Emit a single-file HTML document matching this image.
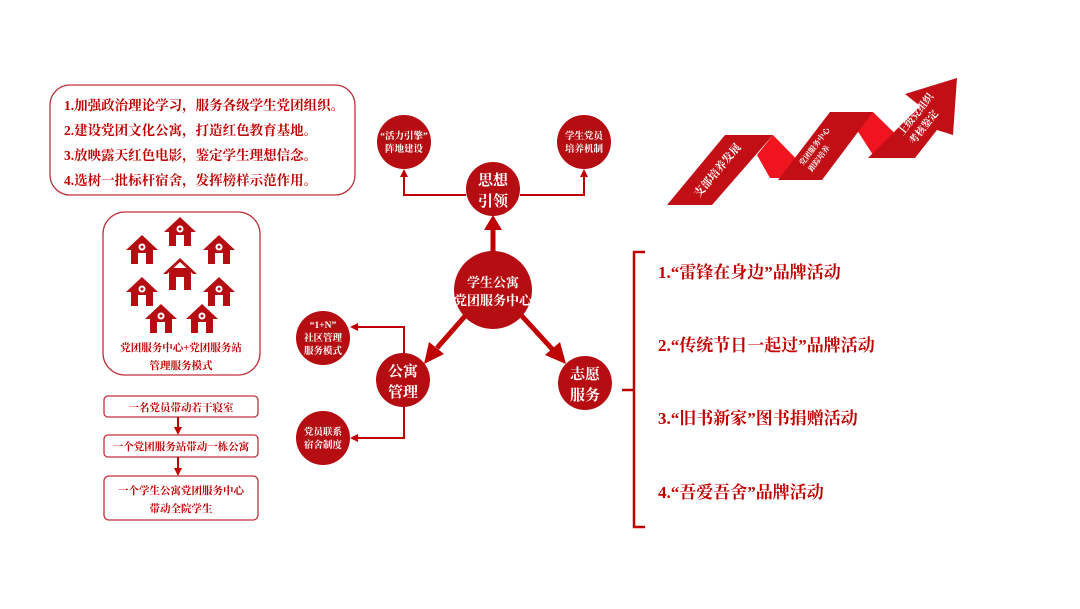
<!DOCTYPE html>
<html><head><meta charset="utf-8"><style>
html,body{margin:0;padding:0;background:#fff}
svg{display:block}
text{font-family:"Liberation Serif","Noto Serif CJK SC",serif;font-weight:bold}
</style></head><body>
<svg width="1080" height="609" viewBox="0 0 1080 609" xmlns="http://www.w3.org/2000/svg">
<defs>
<g id="h">
<polygon points="-16,0 0,-15 16,0" fill="#b50d12"/>
<rect x="-11" y="-2" width="22" height="16" fill="#b50d12"/>
<circle cx="0" cy="-3" r="3.5" fill="#fff"/><circle cx="0" cy="-3" r="1.5" fill="#b50d12"/>
<rect x="-4" y="3" width="8" height="11" fill="#fff"/>
</g>
<marker id="a" markerWidth="8" markerHeight="8" refX="6" refY="4" orient="auto" markerUnits="userSpaceOnUse"><path d="M0,0 L8,4 L0,8 Z" fill="#c00000"/></marker>
</defs>
<g fill="none" stroke="#c0303a" stroke-width="1.3">
<rect x="50" y="85" width="305" height="110" rx="20"/>
<rect x="103" y="212" width="157" height="163" rx="22"/>
<rect x="104" y="396" width="154" height="21" rx="4"/>
<rect x="104" y="435" width="154" height="22" rx="4"/>
<rect x="104" y="476" width="154" height="44" rx="5"/>
</g>
<g font-size="13.5" fill="#c00000">
<text x="64" y="110">1.加强政治理论学习，服务各级学生党团组织。</text>
<text x="64" y="135">2.建设党团文化公寓，打造红色教育基地。</text>
<text x="64" y="160">3.放映露天红色电影，鉴定学生理想信念。</text>
<text x="64" y="185">4.选树一批标杆宿舍，发挥榜样示范作用。</text>
</g>
<use href="#h" x="142" y="250"/><use href="#h" x="180" y="232"/><use href="#h" x="219" y="250"/>
<use href="#h" x="142" y="292"/><use href="#h" x="219" y="292"/><use href="#h" x="161" y="319"/><use href="#h" x="202" y="319"/>
<polygon points="163,274 180,258 197,274 193,274 180,262 167,274" fill="#b50d12"/>
<rect x="169" y="268" width="22" height="22" fill="#b50d12"/><rect x="176" y="277" width="8" height="13" fill="#fff"/>
<g font-size="10.5" fill="#c00000" text-anchor="middle">
<text x="181" y="351">党团服务中心+党团服务站</text>
<text x="181" y="369">管理服务模式</text>
<text x="181" y="411">一名党员带动若干寝室</text>
<text x="181" y="450">一个党团服务站带动一栋公寓</text>
<text x="181" y="494">一个学生公寓党团服务中心</text>
<text x="181" y="512">带动全院学生</text>
</g>
<g stroke="#c00000" stroke-width="2" marker-end="url(#a)">
<line x1="178" y1="417" x2="178" y2="433"/>
<line x1="178" y1="457" x2="178" y2="474"/>
</g>
<g stroke="#c00000" stroke-width="2" fill="none" marker-end="url(#a)">
<polyline points="466,195 404,195 404,171"/>
<polyline points="520,195 584,195 584,171"/>
<polyline points="404,353 404,327 352,327"/>
<polyline points="404,407 404,438 352,438"/>
</g>
<g stroke="#c00000" stroke-width="5" fill="#c00000">
<line x1="493" y1="253" x2="493" y2="228"/>
<line x1="466" y1="315" x2="437" y2="348"/>
<line x1="521" y1="315" x2="553" y2="350"/>
</g>
<polygon points="484,230 493,215 502,230" fill="#c00000"/>
<polygon points="429,342 424,364 444,354" fill="#c00000"/>
<polygon points="545,355 566,364 560,342" fill="#c00000"/>
<g fill="#b50d12">
<circle cx="493" cy="189" r="27"/><circle cx="404" cy="142" r="27"/><circle cx="584" cy="142" r="27"/>
<circle cx="493" cy="290" r="39"/><circle cx="403" cy="380" r="27"/><circle cx="585" cy="383" r="27"/>
<circle cx="323" cy="338" r="27"/><circle cx="323" cy="438" r="27"/>
</g>
<g fill="#fff" text-anchor="middle">
<g font-size="15"><text x="493" y="185">思想</text><text x="493" y="206">引领</text>
<text x="403" y="376">公寓</text><text x="403" y="397">管理</text>
<text x="585" y="379">志愿</text><text x="585" y="400">服务</text></g>
<g font-size="13"><text x="493" y="287">学生公寓</text><text x="493" y="305">党团服务中心</text></g>
<g font-size="9.5"><text x="404" y="139">“活力引擎”</text><text x="404" y="152">阵地建设</text>
<text x="584" y="139">学生党员</text><text x="584" y="152">培养机制</text>
<text x="323" y="328">“1+N”</text><text x="323" y="341">社区管理</text><text x="323" y="354">服务模式</text>
<text x="323" y="435">党员联系</text><text x="323" y="448">宿舍制度</text></g>
</g>
<polyline points="645,252 634,252 634,527 645,527" fill="none" stroke="#c00000" stroke-width="2.5"/>
<line x1="622" y1="390" x2="634" y2="390" stroke="#c00000" stroke-width="2.5"/>
<g font-size="17" fill="#c00000">
<text x="658" y="278">1.“雷锋在身边”品牌活动</text>
<text x="658" y="351">2.“传统节日一起过”品牌活动</text>
<text x="658" y="424">3.“旧书新家”图书捐赠活动</text>
<text x="658" y="498">4.“吾爱吾舍”品牌活动</text>
</g>
<!-- ribbon -->
<polygon points="757,155 773,135 815,178 770,178" fill="#f0141e"/>
<polygon points="857,130 873,112 917,155 873,155" fill="#f0141e"/>
<polygon points="667,205 712,205 773,135 725,135" fill="#c20f16"/>
<polygon points="778,180 822,180 873,112 830,112" fill="#c20f16"/>
<polygon points="868,158 915,158 937,130 953,135 957,78 905,94 920,106" fill="#c20f16"/>
<g fill="#fff" font-size="11">
<text x="0" y="0" transform="translate(699,198) rotate(-50)">支部培养发展</text>
<text x="0" y="0" font-size="7.5" transform="translate(803,166) rotate(-53)">党团服务中心</text>
<text x="0" y="0" font-size="7.5" transform="translate(812,172) rotate(-53)">跟踪培养</text>
<text x="0" y="0" font-size="10" transform="translate(903,136) rotate(-52)">上级党组织</text>
<text x="0" y="0" font-size="10" transform="translate(914,145) rotate(-52)">考核鉴定</text>
</g>
</svg>
</body></html>
